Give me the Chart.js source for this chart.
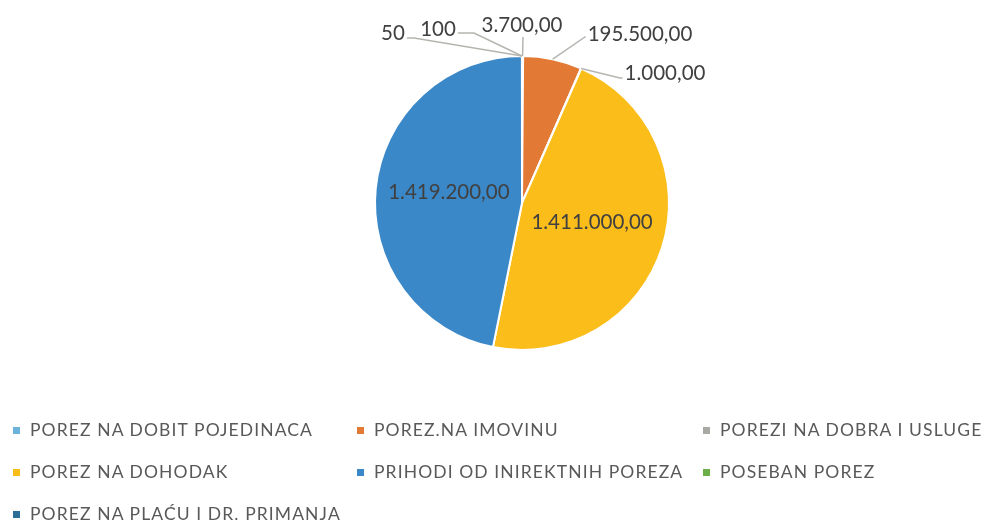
<!DOCTYPE html>
<html lang="hr">
  <head>
    <meta charset="utf-8">
    <title>Porezi</title>
    <style>
      html, body { margin: 0; padding: 0; background: #fff; }
      #wrap { position: relative; width: 989px; height: 524px; }
      #legend { position: absolute; left: 0; top: 0; width: 989px; height: 524px; pointer-events: none;
        font-family: Lato, "Open Sans", sans-serif; font-size: 17.5px; letter-spacing: 1.1px; color: #595959; }
      .item { position: absolute; white-space: nowrap; line-height: 20px; }
      .item i { position: absolute; top: 7px; width: 7px; height: 7px; }
    </style>
  </head>
  <body>
    <div id="wrap">
      <canvas id="pie" width="989" height="524"></canvas>
      <div id="legend"></div>
    </div>
    <script src="https://cdn.jsdelivr.net/npm/chart.js@4.4.1/dist/chart.umd.min.js"></script>
    <script>
      const labels = [
        "POREZ NA DOBIT POJEDINACA",
        "POREZ.NA IMOVINU",
        "POREZI NA DOBRA I USLUGE",
        "POREZ NA DOHODAK",
        "PRIHODI OD INIREKTNIH POREZA",
        "POSEBAN POREZ",
        "POREZ NA PLAĆU I DR. PRIMANJA"
      ];
      const values = [3700, 195500, 1000, 1411000, 1419200, 100, 50];
      const valueTexts = ["3.700,00", "195.500,00", "1.000,00", "1.411.000,00", "1.419.200,00", "100", "50"];
      const colors = ["#6cb3dc", "#e27a36", "#a9a9a4", "#fbbd1a", "#3b88c8", "#6cae48", "#2b6f98"];

      // where the labels go: 'in' = middle of slice, otherwise text centre + leader bend (px from pie centre)
      const placement = [
        { text: [0, -178], bend: [1, -166] },
        { text: [118, -169], bend: [63, -166] },
        { text: [143, -130], bend: [98, -125] },
        'in',
        'in',
        { text: [-84, -174], bend: [-48, -170] },
        { text: [-129, -170], bend: [-108, -165] }
      ];

      const labelPlugin = {
        id: 'sliceLabels',
        afterDatasetsDraw(chart) {
          const ctx = chart.ctx;
          const meta = chart.getDatasetMeta(0);
          ctx.save();
          ctx.font = '20.5px Lato, "Open Sans", sans-serif';
          ctx.fillStyle = '#404040';
          ctx.textBaseline = 'middle';
          meta.data.forEach((arc, i) => {
            const p = placement[i];
            if (p === 'in') {
              const c = arc.getCenterPoint();
              ctx.textAlign = 'center';
              ctx.fillText(valueTexts[i], c.x, c.y - 3);
              return;
            }
            const mid = (arc.startAngle + arc.endAngle) / 2;
            const ax = arc.x + Math.cos(mid) * arc.outerRadius;
            const ay = arc.y + Math.sin(mid) * arc.outerRadius;
            const tx = arc.x + p.text[0], ty = arc.y + p.text[1];
            const bx = arc.x + p.bend[0], by = arc.y + p.bend[1];
            const w = ctx.measureText(valueTexts[i]).width;
            // leader line
            ctx.strokeStyle = '#b5b5b0';
            ctx.lineWidth = 1.5;
            ctx.beginPath();
            ctx.moveTo(ax, ay);
            ctx.lineTo(bx, by);
            if (Math.abs(bx - tx) > w / 2) {
              const ex = bx < tx ? tx - w / 2 - 2 : tx + w / 2 + 2;
              ctx.lineTo(ex, by);
            }
            ctx.stroke();
            ctx.textAlign = 'center';
            ctx.fillText(valueTexts[i], tx, ty);
          });
          ctx.restore();
        }
      };

      new Chart(document.getElementById('pie').getContext('2d'), {
        type: 'pie',
        data: {
          labels: labels,
          datasets: [{
            data: values,
            backgroundColor: colors,
            borderColor: '#ffffff',
            borderWidth: 2
          }]
        },
        options: {
          responsive: false,
          animation: false,
          layout: { padding: { top: 55, bottom: 173, left: 374, right: 319 } },
          plugins: { legend: { display: false }, tooltip: { enabled: false } }
        },
        plugins: [labelPlugin]
      });

      // legend laid out in three columns like the original
      const colX = [13, 357, 703];
      const rowY = [420, 462, 504];
      const legend = document.getElementById('legend');
      labels.forEach((name, i) => {
        const el = document.createElement('div');
        el.className = 'item';
        el.style.left = colX[i % 3] + 'px';
        el.style.top = rowY[Math.floor(i / 3)] + 'px';
        el.style.paddingLeft = '17px';
        el.innerHTML = '<i style="left:0;background:' + colors[i] + '"></i>' + name;
        legend.appendChild(el);
      });
    </script>
  </body>
</html>
